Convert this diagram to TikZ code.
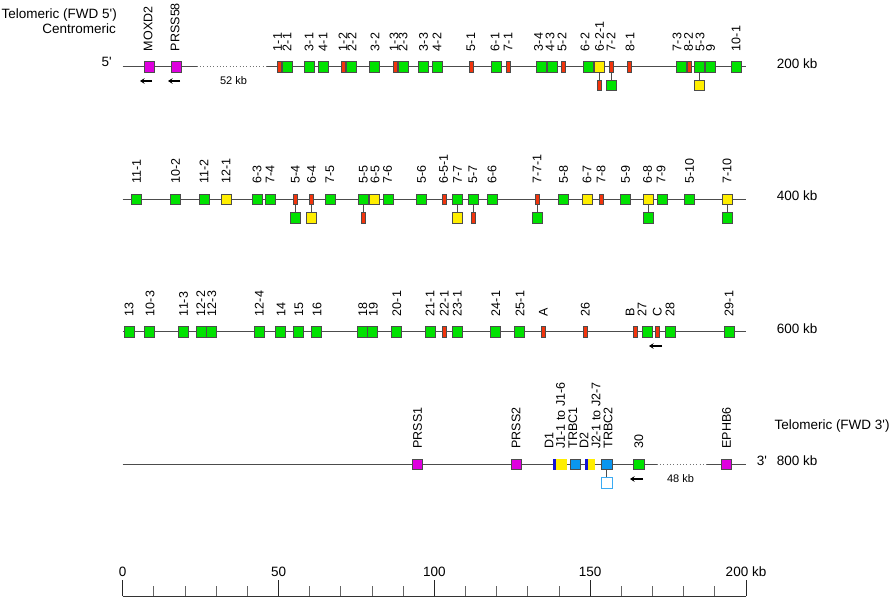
\documentclass[tikz,border=0pt]{standalone}
\usepackage{fontspec}
\setmainfont{Liberation Sans}
\usetikzlibrary{arrows.meta,positioning}
\definecolor{vgreen}{RGB}{0,226,0}
\definecolor{psred}{RGB}{242,52,12}
\definecolor{orfyel}{RGB}{255,238,0}
\definecolor{flmag}{RGB}{222,0,222}
\definecolor{cblue}{RGB}{10,150,240}
\definecolor{ddark}{RGB}{20,20,215}
\tikzset{
  chrom/.style={draw=black!70,line width=0.9pt},
  gapline/.style={draw=black!55,line width=0.9pt,dash pattern=on 0.9pt off 2.4pt},
  stem/.style={draw=black!70,line width=0.9pt},
  gene/.style={draw=black!70,line width=0.6pt,inner sep=0pt,minimum width=10.2pt,minimum height=10.2pt},
  vbox/.style={gene,fill=vgreen},% functional
  pbox/.style={gene,fill=psred,minimum width=4pt},% pseudogene
  obox/.style={gene,fill=orfyel},% ORF
  mbox/.style={gene,fill=flmag},% flanking genes
  cbox/.style={gene,fill=cblue},
  ebox/.style={gene,draw=cblue!80,fill=white},
  dbar/.style={inner sep=0pt,fill=ddark,minimum width=3.3pt,minimum height=10.7pt},
  jbar/.style={inner sep=0pt,fill=orfyel,minimum height=10.7pt},
  glabel/.style={rotate=90,anchor=west,inner sep=0pt,font=\fontsize{12.5}{14}\selectfont},
  side/.style={inner sep=0pt,font=\fontsize{13.5}{15}\selectfont},
  kbtext/.style={inner sep=0pt,font=\fontsize{11}{13}\selectfont},
  dir/.style={-{Stealth[length=4.5pt,width=5.5pt]},line width=1.4pt},
}
\begin{document}
\begin{tikzpicture}[x=1pt,y=-1pt]
\useasboundingbox (0,0) rectangle (891,597);
% titles
\node[side,anchor=base east] (tel5) at (117,18.5) {Telomeric (FWD 5\textquotesingle)};
\node[side,anchor=base east] (cen) at (116,33) {Centromeric};
\node[side,anchor=base west] (tel3) at (774.3,429.5) {Telomeric (FWD 3\textquotesingle)};
\node[side,anchor=base east] (p5) at (112,66.7) {5\textquotesingle};
\node[side,anchor=base west] (p3) at (756.7,465.6) {3\textquotesingle};
\node[side,anchor=base west] (kb200) at (776.7,68) {200 kb};
\node[side,anchor=base west] (kb400) at (776.7,200.6) {400 kb};
\node[side,anchor=base west] (kb600) at (776.7,333) {600 kb};
\node[side,anchor=base west] (kb800) at (776.7,465.6) {800 kb};

% row 1
\def\ry{66.7}
\coordinate (r1a) at (122.7,\ry); \coordinate (r1b) at (196.7,\ry);
\coordinate (r1c) at (266.7,\ry); \coordinate (r1d) at (746,\ry);
\draw[chrom] (r1a) -- (r1b); \draw[gapline] (r1b) -- (r1c); \draw[chrom] (r1c) -- (r1d);
\node[kbtext] (gap52) at (233.5,81) {52 kb};
\foreach \x/\st/\gn/\lx in {149/mbox/MOXD2/148,176/mbox/PRSS58/175,279.5/pbox/1-1/277.5,
  287/vbox/2-1/287,309/vbox/3-1/309,323/vbox/4-1/323,343/pbox/1-2/343,351/vbox/2-2/352,
  374.5/vbox/3-2/375,395/pbox/1-3/394,403/vbox/2-3/403,423.5/vbox/3-3/423.5,437/vbox/4-2/437,
  471/pbox/5-1/471,496/vbox/6-1/495,508/pbox/7-1/508,541/vbox/3-4/538.5,552/vbox/4-3/550,
  563/pbox/5-2/562,588/vbox/6-2/585,599.5/obox/6-2-1/599.5,611/pbox/7-2/611,629/pbox/8-1/630,
  681/vbox/7-3/677,689.5/pbox/8-2/688.5,699.5/vbox/5-3/700,710.5/vbox/9/710.5,736.5/vbox/10-1/736}
{
  \node[\st] (g\gn) at (\x,\ry) {};
  \node[glabel] at (\lx,{\ry-15.5}) {\gn};
}
\foreach \gn/\st in {6-2-1/pbox,7-2/vbox,5-3/obox}
{
  \node[\st,below=7.6pt of g\gn] (u\gn) {};
  \draw[stem] (g\gn.south) -- (u\gn.north);
}
\coordinate (a1s) at (152,81); \coordinate (a1e) at (140,81);
\coordinate (a2s) at (180,81); \coordinate (a2e) at (168,81);
\draw[dir] (a1s) -- (a1e);
\draw[dir] (a2s) -- (a2e);

% row 2
\def\ry{199.3}
\coordinate (r2a) at (122.7,\ry); \coordinate (r2b) at (746,\ry);
\draw[chrom] (r2a) -- (r2b);
\foreach \x/\st/\gn/\lx in {136/vbox/11-1/136.5,175.5/vbox/10-2/175.5,204/vbox/11-2/204,
  226/obox/12-1/226,257/vbox/6-3/257,270.3/vbox/7-4/270,295.5/pbox/5-4/295.5,311.5/pbox/6-4/311.5,
  330.5/vbox/7-5/330,363.5/vbox/5-5/363.5,374.3/obox/6-5/375,388/vbox/7-6/387.5,421.5/vbox/5-6/421.5,
  444/pbox/6-5-1/443.5,457.5/vbox/7-7/457.5,473/vbox/5-7/473,492/vbox/6-6/492,
  537.5/pbox/7-7-1/537,563.5/vbox/5-8/563.5,587/obox/6-7/587,601/pbox/7-8/601,
  625.5/vbox/5-9/625.5,648.5/obox/6-8/647.5,662/vbox/7-9/661,689/vbox/5-10/689.5,727/obox/7-10/727}
{
  \node[\st] (g\gn) at (\x,\ry) {};
  \node[glabel] at (\lx,{\ry-15.5}) {\gn};
}
\foreach \gn/\st in {5-4/vbox,6-4/obox,5-5/pbox,7-7/obox,5-7/pbox,7-7-1/vbox,6-8/vbox,7-10/vbox}
{
  \node[\st,below=7.6pt of g\gn] (u\gn) {};
  \draw[stem] (g\gn.south) -- (u\gn.north);
}

% row 3
\def\ry{331.7}
\coordinate (r3a) at (122.7,\ry); \coordinate (r3b) at (745.5,\ry);
\draw[chrom] (r3a) -- (r3b);
\foreach \x/\st/\gn/\lx in {129.5/vbox/13/129,149/vbox/10-3/150,183.5/vbox/11-3/183.5,
  201/vbox/12-2/200.8,211.5/vbox/12-3/211.7,259/vbox/12-4/259.3,280.5/vbox/14/281,
  298.5/vbox/15/299,316.5/vbox/16/317,362/vbox/18/362.7,372.5/vbox/19/373.3,396.5/vbox/20-1/396.7,
  430/vbox/21-1/430,444.5/pbox/22-1/444.3,457.5/vbox/23-1/457.3,495.5/vbox/24-1/495.7,
  519.5/vbox/25-1/520,543/pbox/A/543.3,585/pbox/26/585.3,635/pbox/B/630,647.5/vbox/27/642,
  657.5/pbox/C/657.3,670/vbox/28/670,729/vbox/29-1/729}
{
  \node[\st] (g\gn) at (\x,\ry) {};
  \node[glabel] at (\lx,{\ry-15.5}) {\gn};
}
\coordinate (a3s) at (662,346); \coordinate (a3e) at (649,346);
\draw[dir] (a3s) -- (a3e);

% row 4
\def\ry{464.3}
\coordinate (r4a) at (122.7,\ry); \coordinate (r4b) at (656.7,\ry);
\coordinate (r4c) at (706.7,\ry); \coordinate (r4d) at (746,\ry);
\draw[chrom] (r4a) -- (r4b); \draw[gapline] (r4b) -- (r4c); \draw[chrom] (r4c) -- (r4d);
\node[kbtext] (gap48) at (680.5,479) {48 kb};
\node[mbox] (gPRSS1) at (417.5,\ry) {};
\node[mbox] (gPRSS2) at (516,\ry) {};
\node[dbar] (gD1) at (554.3,\ry) {};
\node[jbar,minimum width=10.5pt] (gJ1) at (561.3,\ry) {};
\node[cbox] (gTRBC1) at (575.3,\ry) {};
\node[dbar] (gD2) at (586.3,\ry) {};
\node[jbar,minimum width=7.3pt] (gJ2) at (591.7,\ry) {};
\node[cbox] (gTRBC2) at (606.7,\ry) {};
\node[vbox] (g30) at (638.7,\ry) {};
\node[mbox] (gEPHB6) at (726,\ry) {};
\node[ebox,below=7.6pt of gTRBC2] (uTRBC2) {};
\draw[stem] (gTRBC2.south) -- (uTRBC2.north);
\foreach \lx/\gn in {417.5/PRSS1,516/PRSS2,549/D1,560.5/J1-1 to J1-6,572.7/TRBC1,584/D2,
  596/J2-1 to J2-7,608/TRBC2,638.7/30,726.5/EPHB6}
  \node[glabel] at (\lx,{\ry-15.5}) {\gn};
\coordinate (a4s) at (643,479); \coordinate (a4e) at (630,479);
\draw[dir] (a4s) -- (a4e);

% scale bar
\coordinate (s0) at (122.7,596); \coordinate (s200) at (746,596);
\draw[black!80,line width=0.9pt] (s0) -- (s200);
\foreach \k in {0,10,...,200}
  \draw[black!60,line width=0.9pt] ({122.7+3.1165*\k},596) -- ++(0,-10.5);
\foreach \k in {0,50,...,200}
  \draw[black!85,line width=0.9pt] ({122.7+3.1165*\k},596) -- ++(0,-16);
\foreach \k in {0,50,100,150}
  \node[side,anchor=base] at ({122.7+3.1165*\k},576.7) {\k};
\node[side,anchor=base] (s200t) at (746,576.7) {200 kb};
\end{tikzpicture}
\end{document}
